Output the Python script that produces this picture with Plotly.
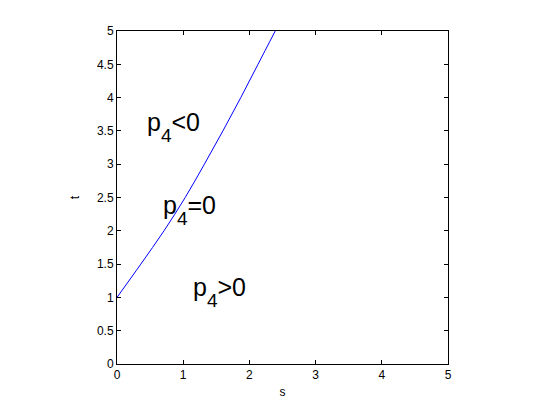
import plotly.graph_objects as go

# curve p4 = 0
t_vals = [1.0, 1.5, 2.0, 2.5, 3.0, 3.5, 4.0, 4.5, 5.0]
s_vals = [0.0, 0.36, 0.71, 1.03, 1.32, 1.60, 1.87, 2.13, 2.39]

tick_vals_x = [0, 1, 2, 3, 4, 5]
tick_vals_y = [0, 0.5, 1, 1.5, 2, 2.5, 3, 3.5, 4, 4.5, 5]

sub4 = '<sub><span style="font-size:19px;baseline-shift:-6px">4</span></sub>'
region_labels = ["p" + sub4 + "&lt;0", "p" + sub4 + "=0", "p" + sub4 + "&gt;0"]
label_s = [0.43, 0.66, 1.12]
label_t = [3.56, 2.31, 1.08]

fig = go.Figure()

fig.add_trace(
    go.Scatter(
        x=s_vals,
        y=t_vals,
        mode="lines",
        line=dict(color="#0000ff", width=1, shape="spline"),
        showlegend=False,
    )
)

for text, sx, ty in zip(region_labels, label_s, label_t):
    fig.add_annotation(
        x=sx,
        y=ty,
        text=text,
        showarrow=False,
        xanchor="left",
        yanchor="middle",
        font=dict(size=25, color="black", family="Liberation Sans, Arial, sans-serif"),
    )

axis_style = dict(
    showline=True,
    linecolor="black",
    linewidth=1,
    mirror="ticks",
    ticks="inside",
    ticklen=4,
    tickcolor="black",
    showgrid=False,
    zeroline=False,
    tickfont=dict(size=12, color="black"),
)

fig.update_xaxes(
    range=[0, 5],
    tickvals=tick_vals_x,
    title=dict(text="s", font=dict(size=12, color="black"), standoff=6),
    **axis_style,
)
fig.update_yaxes(
    range=[0, 5],
    tickvals=tick_vals_y,
    title=dict(text="t", font=dict(size=12, color="black"), standoff=14),
    **axis_style,
)

# page body adds an 8px offset, so the figure is a bit smaller
fig.update_layout(
    width=537,
    height=402,
    margin=dict(l=109, r=97, t=23, b=46),
    plot_bgcolor="white",
    paper_bgcolor="white",
    font=dict(family="Liberation Sans, Arial, sans-serif", color="black"),
)

fig.write_html("out.html")
